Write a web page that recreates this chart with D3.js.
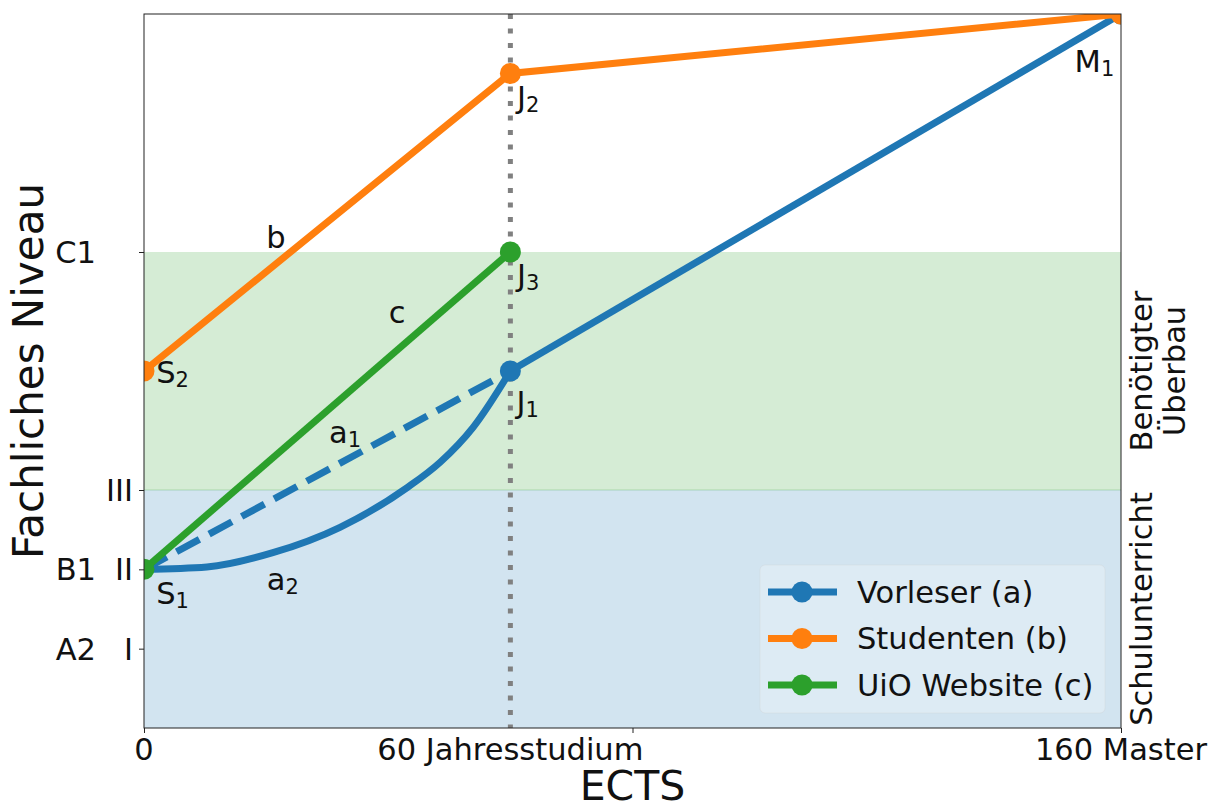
<!DOCTYPE html>
<html>
<head>
<script src="https://d3js.org/d3.v7.min.js" charset="utf-8"></script>
<style>
  body { margin: 0; background: #fff; }
  text { font-family: "DejaVu Sans", sans-serif; }
</style>
</head>
<body>
<svg id="chart"></svg>
<script>
// ---- data ----
const xLabelVals = [0, 60, 160]
const xLabelText = ["0", "60 Jahresstudium", "160 Master"]
const xTickVals = [0, 80, 160]
const yTickVals = [1, 2, 3, 6]
const romanLabels = ["I", "II", "III", ""]
const cefrLabels = ["A2", "B1", "", "C1"]
const bandEdges = [0, 3, 6]
const bandNames = [["Schulunterricht"], ["Benötigter", "Überbau"]]
const jahrX = 60

const vorleser = [[60, 4.5], [160, 9]]            // a, solid part J1 -> M1
const vorleserA1 = [[0, 2], [60, 4.5]]            // a1, dashed
const vorleserA2 = [[0, 2], [10.3, 2.03], [21.1, 2.21], [32.1, 2.53], [43.1, 3.03],
                    [48.5, 3.35], [53.9, 3.79], [60, 4.5]]
const studenten = [[0, 4.5], [60, 8.25], [160, 9]]
const uio = [[0, 2], [60, 6]]

const seriesNames = ["Vorleser (a)", "Studenten (b)", "UiO Website (c)"]

// label text, subscript, x, y (data coords of text baseline start)
const pointLabels = [
  ["S", "1", 2.0, 1.56], ["S", "2", 2.0, 4.35],
  ["J", "1", 61.0, 3.97], ["J", "2", 61.1, 7.82], ["J", "3", 61.1, 5.57],
  ["M", "1", 152.4, 8.27],
  ["a", "1", 30.3, 3.59], ["a", "2", 20.1, 1.74],
  ["b", "", 20.0, 6.05], ["c", "", 40.1, 5.10]
]

// ---- layout ----
const W = 1215, H = 804
const margin = {top: 14, right: 94, bottom: 76, left: 144}
const width = W - margin.left - margin.right,
      height = H - margin.top - margin.bottom
const blue = "#1f77b4", orange = "#ff7f0e", green = "#2ca02c"
const colors = [blue, orange, green]
const bandColors = [blue, green]
const fs = 30.5

const svg = d3.select("#chart").attr("width", W).attr("height", H)
const g = svg.append("g").attr("transform", `translate(${margin.left},${margin.top})`)

const x = d3.scaleLinear().domain([0, 160]).range([0, width])
const y = d3.scaleLinear().domain([0, 9]).range([height, 0])

svg.append("defs").append("clipPath").attr("id", "clip")
  .append("rect").attr("width", width).attr("height", height)

// bands
for (let i = 0; i < 2; i++) {
  g.append("rect")
    .attr("x", 0).attr("width", width)
    .attr("y", y(bandEdges[i + 1])).attr("height", y(bandEdges[i]) - y(bandEdges[i + 1]))
    .attr("fill", bandColors[i]).attr("fill-opacity", 0.2)
}
g.append("line").attr("x1", 0).attr("x2", width)
  .attr("y1", y(3)).attr("y2", y(3))
  .attr("stroke", green).attr("stroke-opacity", 0.25).attr("stroke-width", 1)

// dotted vertical line
g.append("line")
  .attr("x1", x(jahrX)).attr("x2", x(jahrX)).attr("y1", 0).attr("y2", height)
  .attr("stroke", "grey").attr("stroke-width", 5).attr("stroke-dasharray", "5,9.5")

const plot = g.append("g").attr("clip-path", "url(#clip)")
const line = d3.line().x(d => x(d[0])).y(d => y(d[1]))
const curve = d3.line().x(d => x(d[0])).y(d => y(d[1])).curve(d3.curveMonotoneX)

function drawLine(data, color, gen, dash) {
  plot.append("path").attr("d", gen(data))
    .attr("fill", "none").attr("stroke", color).attr("stroke-width", 7)
    .attr("stroke-dasharray", dash || null)
}
function drawMarkers(data, color) {
  plot.selectAll(null).data(data).enter().append("circle")
    .attr("cx", d => x(d[0])).attr("cy", d => y(d[1])).attr("r", 10.5)
    .attr("fill", color)
}

drawLine(vorleser, blue, line)
drawLine(vorleserA1, blue, line, "26,11")
drawLine(vorleserA2, blue, curve)
drawMarkers(vorleser, blue)
drawLine(studenten, orange, line)
drawMarkers(studenten, orange)
drawLine(uio, green, line)
drawMarkers(uio, green)

// axes frame
g.append("rect").attr("width", width).attr("height", height)
  .attr("fill", "none").attr("stroke", "#222").attr("stroke-width", 1)

const xAxis = g.append("g").attr("transform", `translate(0,${height})`)
  .call(d3.axisBottom(x).tickValues(xTickVals).tickFormat("").tickSize(5).tickSizeOuter(0))
xAxis.select(".domain").remove()
xAxis.selectAll("line").attr("stroke", "#222")

g.selectAll(".xlab").data(xLabelVals).enter().append("text")
  .attr("x", d => x(d)).attr("y", height + 32)
  .attr("text-anchor", "middle").attr("font-size", fs).attr("fill", "#111")
  .text((d, i) => xLabelText[i])

const yAxis = g.append("g")
  .call(d3.axisLeft(y).tickValues(yTickVals).tickFormat("").tickSize(5).tickSizeOuter(0))
yAxis.select(".domain").remove()
yAxis.selectAll("line").attr("stroke", "#222")

g.selectAll(".roman").data(yTickVals).enter().append("text")
  .attr("x", -11).attr("y", d => y(d)).attr("dy", "0.36em")
  .attr("text-anchor", "end").attr("font-size", fs).attr("fill", "#111")
  .text((d, i) => romanLabels[i])
g.selectAll(".cefr").data(yTickVals).enter().append("text")
  .attr("x", -48).attr("y", d => y(d)).attr("dy", "0.36em")
  .attr("text-anchor", "end").attr("font-size", fs).attr("fill", "#111")
  .text((d, i) => cefrLabels[i])

// axis titles
svg.append("text").attr("x", margin.left + width / 2).attr("y", 800)
  .attr("text-anchor", "middle").attr("font-size", 41).attr("fill", "#111").text("ECTS")
svg.append("text")
  .attr("transform", `translate(43,${margin.top + height / 2}) rotate(-90)`)
  .attr("text-anchor", "middle").attr("font-size", 42).attr("fill", "#111").text("Fachliches Niveau")

// right band labels
bandNames.forEach((lines, i) => {
  const cy = y((bandEdges[i] + bandEdges[i + 1]) / 2)
  const n = lines.length
  lines.forEach((t, j) => {
    const bx = width + 31 + (j - (n - 1) / 2) * 33 + (n - 1) * 16.5
    g.append("text")
      .attr("transform", `translate(${bx},${cy}) rotate(-90)`)
      .attr("text-anchor", "middle").attr("font-size", fs).attr("fill", "#111").text(t)
  })
})

// point labels
pointLabels.forEach(p => {
  const t = g.append("text").attr("x", x(p[2])).attr("y", y(p[3]))
    .attr("font-size", fs).attr("fill", "#111")
  t.append("tspan").text(p[0])
  if (p[1]) t.append("tspan").attr("font-size", 21).attr("dy", 4).text(p[1])
})

// legend
const leg = g.append("g").attr("transform", `translate(${760 - margin.left},${565 - margin.top})`)
leg.append("rect").attr("width", 345).attr("height", 148).attr("rx", 5)
  .attr("fill", "#fff").attr("fill-opacity", 0.25)
  .attr("stroke", "#ccc").attr("stroke-opacity", 0.3)
seriesNames.forEach((name, i) => {
  const ly = 27 + i * 46.5
  leg.append("line").attr("x1", 8).attr("x2", 77).attr("y1", ly).attr("y2", ly)
    .attr("stroke", colors[i]).attr("stroke-width", 7)
  leg.append("circle").attr("cx", 42).attr("cy", ly).attr("r", 10.5).attr("fill", colors[i])
  leg.append("text").attr("x", 97).attr("y", ly).attr("dy", "0.36em")
    .attr("font-size", fs).attr("fill", "#111").text(name)
})
</script>
</body>
</html>
